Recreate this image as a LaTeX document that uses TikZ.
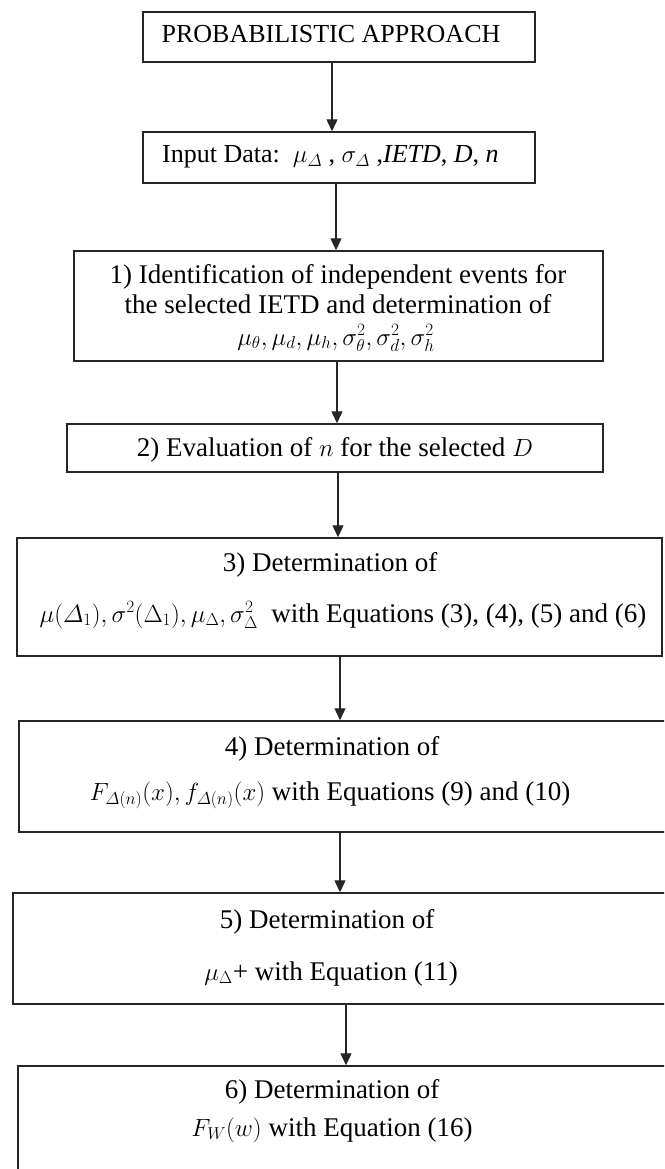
\documentclass[tikz,border=0pt]{standalone}
\usepackage{amsmath}
\usepackage{fontspec}
\setmainfont{Liberation Serif}
\usetikzlibrary{arrows.meta}
\begin{document}
\begin{tikzpicture}[x=1pt,y=-1pt,
  boxnode/.style={draw=black!85, line width=1.4pt, inner sep=0pt},
  txt/.style={anchor=base, inner sep=0pt, font=\fontsize{27}{31}\selectfont},
  arr/.style={draw=black!85, line width=1.2pt, -{Triangle[length=12pt,width=11pt]}}
]
\useasboundingbox (0,0) rectangle (664,1169);
\clip (0,0) rectangle (664,1169);
\fill[white] (0,0) rectangle (664,1169);

% boxes
\node[boxnode, minimum width=392pt, minimum height=50pt] (b0) at (339,37) {};
\node[boxnode, minimum width=392pt, minimum height=51pt] (bin) at (339,157.5) {};
\node[boxnode, minimum width=529pt, minimum height=110pt] (b1) at (338.5,306) {};
\node[boxnode, minimum width=536pt, minimum height=48pt] (b2) at (335,448) {};
\node[boxnode, minimum width=645pt, minimum height=118pt] (b3) at (339.5,597) {};
\node[boxnode, minimum width=671pt, minimum height=111pt] (b4) at (354.5,776.5) {};
\node[boxnode, minimum width=677pt, minimum height=111pt] (b5) at (351.5,948.5) {};
\node[boxnode, minimum width=672pt, minimum height=134pt] (b6) at (354,1133) {};

% texts
\node[txt, font=\fontsize{26}{30}\selectfont] (t0) at (331,43) {PROBABILISTIC APPROACH};
\node[txt, anchor=base west, font=\fontsize{26}{30}\selectfont] (tin) at (162,163) {Input Data:\ \ $\mu_{\varDelta}$ , $\sigma_{\varDelta}$ ,\textit{IETD}, \textit{D}, \textit{n}};
\node[txt] (t1a) at (338,283) {1) Identification of independent events for};
\node[txt] (t1b) at (338,313) {the selected IETD and determination of};
\node[txt, font=\fontsize{26}{30}\selectfont] (t1c) at (336,345) {$\mu_\theta, \mu_d, \mu_h, \sigma_\theta^2, \sigma_d^2, \sigma_h^2$};
\node[txt] (t2) at (335,456) {2) Evaluation of $n$ for the selected $D$};
\node[txt] (t3a) at (330,571) {3) Determination of};
\node[txt] (t3b) at (343,622) {$\mu(\varDelta_1), \sigma^2(\Delta_1), \mu_\Delta, \sigma_\Delta^2$\ \ with Equations (3), (4), (5) and (6)};
\node[txt] (t4a) at (332,755) {4) Determination of};
\node[txt] (t4b) at (330,800) {$F_{\varDelta(n)}(x), f_{\varDelta(n)}(x)$ with Equations (9) and (10)};
\node[txt] (t5a) at (327,928) {5) Determination of};
\node[txt] (t5b) at (331,980) {$\mu_\Delta$+ with Equation (11)};
\node[txt] (t6a) at (332,1098) {6) Determination of};
\node[txt] (t6b) at (332,1136) {$F_W(w)$ with Equation (16)};

% arrow x positions
\coordinate (x0) at (332,0);
\coordinate (x1) at (336,0);
\coordinate (x2) at (337,0);
\coordinate (x3) at (338,0);
\coordinate (x4) at (340,0);
\coordinate (x5) at (340,0);
\coordinate (x6) at (346,0);

\draw[arr] (b0.south -| x0) -- (bin.north -| x0);
\draw[arr] (bin.south -| x1) -- (b1.north -| x1);
\draw[arr] (b1.south -| x2) -- (b2.north -| x2);
\draw[arr] (b2.south -| x3) -- (b3.north -| x3);
\draw[arr] (b3.south -| x4) -- (b4.north -| x4);
\draw[arr] (b4.south -| x5) -- (b5.north -| x5);
\draw[arr] (b5.south -| x6) -- (b6.north -| x6);
\end{tikzpicture}
\end{document}
